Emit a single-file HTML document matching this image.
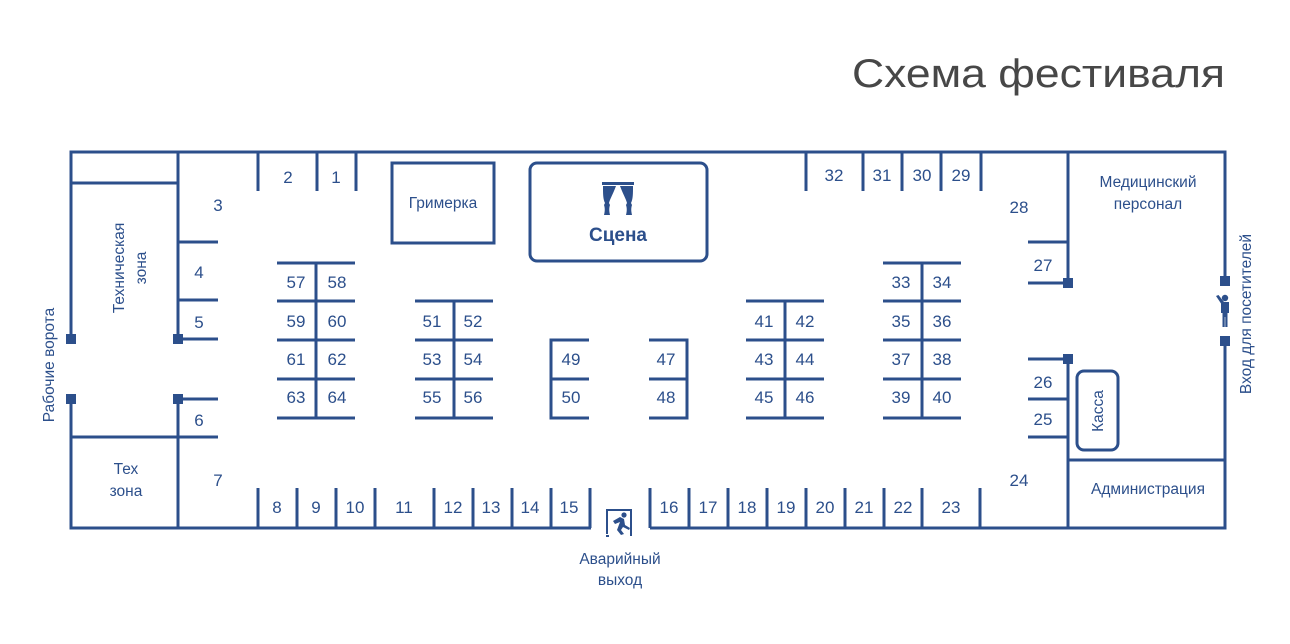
<!DOCTYPE html>
<html><head><meta charset="utf-8"><style>
html,body{margin:0;padding:0;background:#fff;width:1290px;height:644px;overflow:hidden}
svg{display:block}
text{font-family:"Liberation Sans","DejaVu Sans",sans-serif;fill:#2c4f8b}
</style></head><body>
<svg width="1290" height="644" viewBox="0 0 1290 644" xmlns="http://www.w3.org/2000/svg">
<text x="852" y="87" font-size="40" textLength="373" lengthAdjust="spacingAndGlyphs" style="fill:#474747">Схема фестиваля</text>
<g stroke="#2c4f8b" stroke-width="3" fill="none" stroke-linecap="butt">
<path d="M71 339 V152 H1225 V281"/>
<path d="M71 399 V528 H591"/>
<path d="M650 528 H1225 V340"/>
<path d="M71 183 H178"/>
<path d="M178 152 V339"/>
<path d="M178 399 V528"/>
<path d="M71 437 H178"/>
<path d="M178 242 H218 M178 300 H218 M178 339 H218 M178 399 H218 M178 437 H218"/>
<path d="M258 152 V191 M317 152 V191 M356 152 V191"/>
<path d="M806 152 V191 M863 152 V191 M902 152 V191 M941 152 V191 M981 152 V191"/>
<rect x="392" y="163" width="102" height="80"/>
<rect x="530" y="163" width="177" height="98" rx="7"/>
<path d="M1068 152 V283 M1028 242 H1068 M1028 283 H1068"/>
<path d="M1068 359 V528 M1028 359 H1068 M1028 399 H1068 M1028 437 H1068"/>
<path d="M1068 460 H1225"/>
<rect x="1077" y="371" width="41" height="79" rx="7"/>
<path d="M258 488 V528 M297 488 V528 M336 488 V528 M375 488 V528 M434 488 V528 M473 488 V528 M512 488 V528 M551 488 V528 M590 488 V528"/>
<path d="M650 488 V528 M689 488 V528 M728 488 V528 M767 488 V528 M806 488 V528 M845 488 V528 M884 488 V528 M922 488 V528 M980 488 V528"/>
<path d="M277 263 H355 M277 301 H355 M277 340 H355 M277 379 H355 M277 418 H355 M316 263 V418"/>
<path d="M415 301 H493 M415 340 H493 M415 379 H493 M415 418 H493 M454 301 V418"/>
<path d="M589 340 H551 V418 H589 M551 379 H589"/>
<path d="M649 340 H687 V418 H649 M649 379 H687"/>
<path d="M746 301 H824 M746 340 H824 M746 379 H824 M746 418 H824 M785 301 V418"/>
<path d="M883 263 H961 M883 301 H961 M883 340 H961 M883 379 H961 M883 418 H961 M922 263 V418"/>
<path d="M607 534 V510 H631 V536" stroke-width="2"/>
</g>
<g fill="#2c4f8b">
<rect x="66" y="334" width="10" height="10"/>
<rect x="66" y="394" width="10" height="10"/>
<rect x="173" y="334" width="10" height="10"/>
<rect x="173" y="394" width="10" height="10"/>
<rect x="1063" y="278" width="10" height="10"/>
<rect x="1063" y="354" width="10" height="10"/>
<rect x="1220" y="276" width="10" height="10"/>
<rect x="1220" y="336" width="10" height="10"/>
<circle cx="1225" cy="298" r="3.2"/>
<path d="M1221 302 h8 v11 h-1.5 v14 h-2.2 v-10 h-0.6 v10 h-2.2 v-14 h-1.5z"/>
<path d="M1222 305 L1216 296 L1218.5 295 L1224 302z"/>
<rect x="602" y="182" width="32" height="3"/>
<path d="M603 186 h13 c-3 8 -6 13 -7 17 l1 2 c-1 3 -1 6 0 10 h-6 c1-4 1-7 0-10 l1-2 c-2-4 -2-9 -2-17z"/>
<path d="M633 186 h-13 c3 8 6 13 7 17 l-1 2 c1 3 1 6 0 10 h6 c-1-4 -1-7 0-10 l-1-2 c2-4 2-9 2-17z"/>
<circle cx="624" cy="515" r="2.6"/>
<path d="M613 521 L620 517 L624 519 L625 525 L630 528 L629 530 L623 527 L621 530 L624 534 L621 535 L617 530 L620 522 L615 524z"/>
<rect x="606" y="535" width="3" height="2"/>
</g>
<g font-size="17" text-anchor="middle">
<text x="288" y="183">2</text><text x="336" y="183">1</text>
<text x="218" y="211">3</text><text x="199" y="278">4</text><text x="199" y="328">5</text>
<text x="199" y="426">6</text><text x="218" y="486">7</text>
<text x="277" y="513">8</text><text x="316" y="513">9</text><text x="355" y="513">10</text>
<text x="404" y="513">11</text><text x="453" y="513">12</text><text x="491" y="513">13</text>
<text x="530" y="513">14</text><text x="569" y="513">15</text>
<text x="669" y="513">16</text><text x="708" y="513">17</text><text x="747" y="513">18</text>
<text x="786" y="513">19</text><text x="825" y="513">20</text><text x="864" y="513">21</text>
<text x="903" y="513">22</text><text x="951" y="513">23</text>
<text x="1019" y="486">24</text><text x="1043" y="425">25</text><text x="1043" y="388">26</text>
<text x="1043" y="271">27</text><text x="1019" y="213">28</text>
<text x="961" y="181">29</text><text x="922" y="181">30</text><text x="882" y="181">31</text><text x="834" y="181">32</text>
<text x="296" y="288">57</text><text x="337" y="288">58</text>
<text x="296" y="327">59</text><text x="337" y="327">60</text>
<text x="296" y="365">61</text><text x="337" y="365">62</text>
<text x="296" y="403">63</text><text x="337" y="403">64</text>
<text x="432" y="327">51</text><text x="473" y="327">52</text>
<text x="432" y="365">53</text><text x="473" y="365">54</text>
<text x="432" y="403">55</text><text x="473" y="403">56</text>
<text x="571" y="365">49</text><text x="571" y="403">50</text>
<text x="666" y="365">47</text><text x="666" y="403">48</text>
<text x="764" y="327">41</text><text x="805" y="327">42</text>
<text x="764" y="365">43</text><text x="805" y="365">44</text>
<text x="764" y="403">45</text><text x="805" y="403">46</text>
<text x="901" y="288">33</text><text x="942" y="288">34</text>
<text x="901" y="327">35</text><text x="942" y="327">36</text>
<text x="901" y="365">37</text><text x="942" y="365">38</text>
<text x="901" y="403">39</text><text x="942" y="403">40</text>
</g>
<g font-size="15.5" text-anchor="middle">
<text x="443" y="208">Гримерка</text>
<text x="618" y="241" font-size="19" font-weight="bold">Сцена</text>
<text x="1148" y="187">Медицинский</text>
<text x="1148" y="209">персонал</text>
<text x="1148" y="494">Администрация</text>
<text x="126" y="474">Тех</text>
<text x="126" y="496">зона</text>
<text x="620" y="564">Аварийный</text>
<text x="620" y="585">выход</text>
<text transform="translate(1103 411) rotate(-90)">Касса</text>
<text transform="translate(54 365) rotate(-90)">Рабочие ворота</text>
<text transform="translate(124 268) rotate(-90)">Техническая</text>
<text transform="translate(146 268) rotate(-90)">зона</text>
<text transform="translate(1251 314) rotate(-90)">Вход для посетителей</text>
</g>
</svg>
</body></html>
